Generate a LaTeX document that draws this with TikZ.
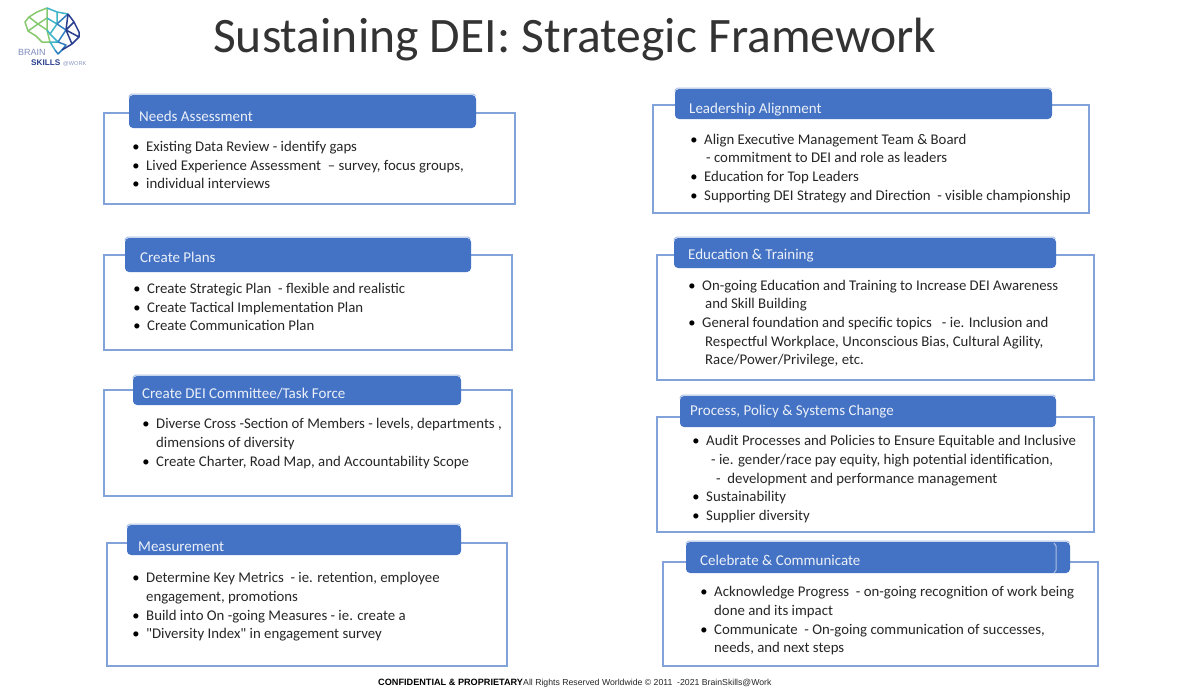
\documentclass[tikz,border=0pt]{standalone}
\usepackage{fontspec}
\setmainfont{Carlito}
\newfontfamily\plainf{Carlito}
\newfontfamily\footfont{Liberation Sans}
\definecolor{hdr}{HTML}{4472C4}
\definecolor{pan}{HTML}{82A2DA}
\definecolor{txtc}{HTML}{262626}
\newcommand{\bl}[3]{\node[bul] (b#1) at (#2,#3) {•};}
\newcommand{\tl}[4]{\node[bodytxt] (t#1) at (#2,#3) {#4};}
\newcommand{\panelbox}[5]{\node[panelshape,minimum width=#4-#2,minimum height=#5-#3] (p#1) at ({(#2+#4)/2},{(#3+#5)/2}) {};}
% name x0 y0 x1 y1 textx texty text
\newcommand{\hdrbox}[8]{\node[hdrshape,minimum width=#4-#2,minimum height=#5-#3-1] (h#1) at ({(#2+#4)/2},{(#3+#5+1)/2}) {};
 \draw[hdrline] (#2,{#3+4}) -- ({#2+.5},{#3+1.5}) -- ({#2+3},#3) -- ({#4-3},#3) -- ({#4-.5},{#3+1.5});
 \node[hdrtxt] (l#1) at (#6,#7) {#8};}
\begin{document}
\begin{tikzpicture}[x=1pt,y=-1pt,
 panelshape/.style={draw=pan,line width=1.3pt,fill=white,rectangle,inner sep=0pt,outer sep=0pt},
 hdrshape/.style={fill=hdr,rectangle,rounded corners=4pt,inner sep=0pt,outer sep=0pt},
 hdrline/.style={draw=white!55!hdr,line width=1pt},
 hdrtxt/.style={anchor=base west,text=white!90!hdr,font=\fontsize{15}{16}\selectfont,inner sep=0pt},
 bodytxt/.style={anchor=base west,yshift=-0.7pt,text=txtc,font=\fontsize{14.8}{16}\selectfont,inner sep=0pt},
 bul/.style={anchor=base,yshift=-0.7pt,text=black,font=\fontsize{14.5}{15}\selectfont,inner sep=0pt},
 logoA/.style={line width=1.5pt,line join=round,draw=#1}]
\useasboundingbox (0,0) rectangle (1183,696);
\fill[white] (0,0) rectangle (1183,696);
% logo
\definecolor{lgA}{HTML}{86C96E}\definecolor{lgB}{HTML}{3DB4C8}\definecolor{lgC}{HTML}{2F7FBF}\definecolor{lgD}{HTML}{2A3F8F}
\draw[logoA=lgA] (47,8) -- (37,12) -- (29,17) -- (25,22) -- (28,31) -- (36,36) -- (42,42) -- (50,42) -- (47,30) -- (47,8);
\draw[logoA=lgA] (29,17) -- (38,24) -- (47,18) (38,24) -- (28,31) (38,24) -- (47,30);
\draw[logoA=lgB] (47,8) -- (57,12) -- (68,14) (47,18) -- (57,24) -- (50,34) -- (47,30) (57,24) -- (57,12) (50,34) -- (58,42) -- (50,42) (50,42) -- (55,50);
\draw[logoA=lgC] (57,24) -- (66,30) -- (58,42) (58,42) -- (66,45) -- (62,50) -- (58,54) -- (55,50) (68,14) -- (57,24);
\draw[logoA=lgD] (68,14) -- (74,22) -- (79,32) -- (79,37) -- (72,44) -- (62,50) (68,14) -- (66,30) -- (74,22) (66,30) -- (72,44) (66,30) -- (79,37);
\node[anchor=base west,inner sep=0pt,text=lgD!60!white,font=\footfont\fontsize{9}{10}\selectfont] (logoa) at (18,55) {BRAIN};
\node[anchor=base west,inner sep=0pt,text=lgD,font=\footfont\bfseries\fontsize{8.2}{9}\selectfont] (logob) at (31,65) {SKILLS};
\node[anchor=base west,inner sep=0pt,text=lgD!55!white,font=\footfont\fontsize{5.6}{6}\selectfont] (logoc) at (63,65) {@WORK};
% title
\node[anchor=base west,inner sep=0pt,text=black!80,font=\fontsize{49.6}{52}\selectfont] (title) at (213,52) {Sustaining DEI: Strategic Framework};
% panels
\panelbox{a}{104}{113}{515}{204}\hdrbox{a}{129}{94}{476}{128}{139}{121}{Needs Assessment}
\panelbox{b}{104}{255}{512}{350}\hdrbox{b}{125}{237}{471}{272}{140}{262}{Create Plans}
\panelbox{c}{104}{390}{512}{496}\hdrbox{c}{133}{375}{461}{405}{142}{398}{Create DEI Committee/Task Force}
\panelbox{d}{107}{543}{507}{666}\hdrbox{d}{127}{524}{461}{555}{138}{551}{Measurement}
\panelbox{e}{653}{105}{1089}{213}\hdrbox{e}{675}{88}{1052}{119}{689}{113}{Leadership Alignment}
\panelbox{f}{657}{255}{1094}{380}\hdrbox{f}{674}{237}{1056}{268}{688}{259}{Education \& Training}
\panelbox{g}{657}{417}{1094}{532}\hdrbox{g}{680}{395}{1056}{427}{690}{415}{Process, Policy \& Systems Change}
\panelbox{h}{663}{562}{1098}{666}\hdrbox{h}{686}{541}{1070}{573}{700}{565}{Celebrate \& Communicate}
\draw[hdrline] (1054,543) -- (1056,546) -- (1056,570) -- (1054,573);
% Needs
\bl{a1}{136}{151}\tl{a1}{146}{151}{Existing Data Review - identify gaps}
\bl{a2}{136}{170}\tl{a2}{146}{170}{Lived Experience Assessment\ \ – survey, focus groups,}
\bl{a3}{136}{188}\tl{a3}{146}{188}{individual interviews}
% Plans
\bl{b1}{137}{293}\tl{b1}{147}{293}{Create Strategic Plan\ \ - flexible and realistic}
\bl{b2}{137}{312}\tl{b2}{147}{312}{Create Tactical Implementation Plan}
\bl{b3}{137}{330}\tl{b3}{147}{330}{Create Communication Plan}
% DEI
\bl{c1}{146}{428}\tl{c1}{156}{428}{Diverse Cross -Section of Members - levels, departments ,}
\tl{c2}{156}{447}{dimensions\ of diversity}
\bl{c3}{146}{466}\tl{c3}{156}{466}{Create Charter, Road Map, and Accountability Scope}
% Measurement
\bl{d1}{136}{582}\tl{d1}{146}{582}{Determine Key Metrics\ \ - ie. retention, employee}
\tl{d2}{146}{601}{engagement, promotions}
\bl{d3}{136}{620}\tl{d3}{146}{620}{Build into On -going Measures - ie. create a}
\bl{d4}{136}{638}\tl{d4}{146}{638}{{\plainf "}Diversity Index{\plainf "} in engagement survey}
% Leadership
\bl{e1}{694}{144}\tl{e1}{704}{144}{Align Executive Management Team \& Board}
\tl{e2}{706}{162}{- commitment to DEI and role as leaders}
\bl{e3}{694}{181}\tl{e3}{704}{181}{Education for Top Leaders}
\bl{e4}{694}{200}\tl{e4}{704}{200}{Supporting DEI Strategy and Direction\ \ - visible championship}
% Education
\bl{f1}{692}{290}\tl{f1}{702}{290}{On-going Education and Training to Increase DEI Awareness}
\tl{f2}{705}{308}{and Skill Building}
\bl{f3}{692}{327}\tl{f3}{702}{327}{General foundation and specific topics\ \ \ - ie. Inclusion and}
\tl{f4}{705}{346}{Respectful Workplace, Unconscious Bias, Cultural Agility,}
\tl{f5}{705}{364}{Race/Power/Privilege, etc.}
% Process
\bl{g1}{696}{445}\tl{g1}{706}{445}{Audit Processes and Policies to Ensure Equitable and Inclusive}
\tl{g2}{711}{464}{- ie. gender/race pay equity, high potential identification,}
\tl{g3}{716}{483}{-\ \ development and performance management}
\bl{g4}{696}{501}\tl{g4}{706}{501}{Sustainability}
\bl{g5}{696}{520}\tl{g5}{706}{520}{Supplier diversity}
% Celebrate
\bl{h1}{704}{596}\tl{h1}{714}{596}{Acknowledge Progress\ \ - on-going recognition of work being}
\tl{h2}{714}{615}{done and its impact}
\bl{h3}{704}{634}\tl{h3}{714}{634}{Communicate\ \ - On-going communication of successes,}
\tl{h4}{714}{652}{needs, and next steps}
% footer
\node[anchor=base west,inner sep=0pt,text=black,font=\footfont\bfseries\fontsize{9.15}{10}\selectfont] (foota) at (378,685) {CONFIDENTIAL \& PROPRIETARY};
\node[anchor=base west,inner sep=0pt,text=black!85,font=\footfont\fontsize{8.7}{10}\selectfont] (footb) at (523,685) {All Rights Reserved Worldwide © 2011\ \ -2021 BrainSkills@Work};
\end{tikzpicture}
\end{document}
